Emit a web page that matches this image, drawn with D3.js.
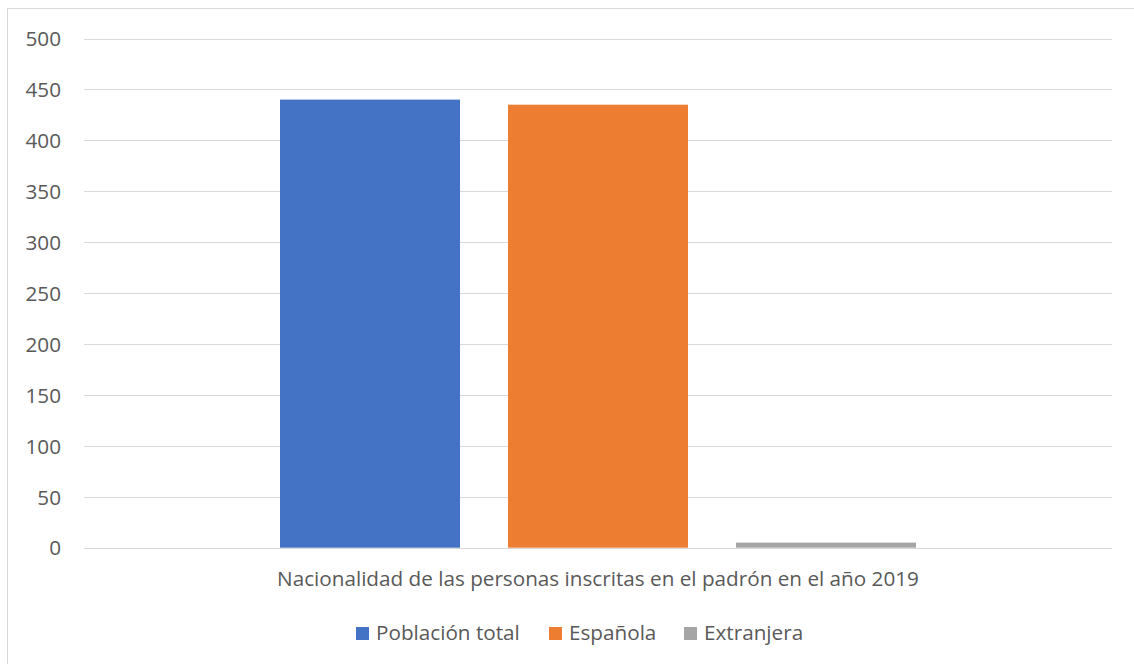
<!DOCTYPE html>
<html><head><meta charset="utf-8">
<script src="https://cdn.jsdelivr.net/npm/d3@7"></script>
<style>body{margin:0;background:#fff}svg{display:block}text{font-family:"Open Sans",sans-serif;fill:#595959}</style>
</head><body>
<svg id="c" width="1134" height="664"></svg>
<script>
const category = ["Nacionalidad de las personas inscritas en el padrón en el año 2019"];
const seriesNames = ["Población total", "Española", "Extranjera"];
const seriesValues = [440, 435, 5];
const colors = ["#4472C4", "#ED7D31", "#A5A5A5"];
const yTicks = [0, 50, 100, 150, 200, 250, 300, 350, 400, 450, 500];
const FS = "20.7px";

const svg = d3.select("#c");
svg.append("rect").attr("x", 7.5).attr("y", 8.5).attr("width", 1140).attr("height", 670)
  .attr("fill", "#fff").attr("stroke", "#d9d9d9");

const x0 = d3.scaleBand().domain(category).range([84, 1112]).paddingInner(0).paddingOuter(0);
const y = d3.scaleLinear().domain([0, 500]).range([547.7, 38.5]);
const x1 = d3.scaleBand().domain(seriesNames).range([280, 916]).paddingInner(48/228).paddingOuter(0);

const g = svg.append("g");
g.selectAll("line.grid").data(yTicks).join("line")
  .attr("x1", 84).attr("x2", 1112)
  .attr("y1", d => Math.round(y(d)) + 0.5).attr("y2", d => Math.round(y(d)) + 0.5)
  .attr("stroke", "#d9d9d9").attr("stroke-width", 1);

const yAxis = d3.axisLeft(y).tickValues(yTicks).tickSize(0).tickPadding(0);
const ya = svg.append("g").attr("transform", "translate(61,0)").call(yAxis);
ya.select(".domain").remove();
ya.selectAll("text").style("font-size", FS).attr("fill", "#595959").attr("dy", "0.35em")
  .style("font-family", "'Open Sans',sans-serif");

g.selectAll("rect.bar").data(seriesNames).join("rect")
  .attr("x", d => x1(d)).attr("width", x1.bandwidth())
  .attr("y", (d, i) => y(seriesValues[i])).attr("height", (d, i) => y(0) - y(seriesValues[i]))
  .attr("fill", (d, i) => colors[i]);

svg.append("text").attr("x", x0(category[0]) + x0.bandwidth() / 2).attr("y", 586)
  .attr("text-anchor", "middle").style("font-size", FS).text(category[0]);

const legX = [356, 549, 684];
const leg = svg.selectAll("g.leg").data(seriesNames).join("g")
  .attr("transform", (d, i) => `translate(${legX[i]},627)`);
leg.append("rect").attr("width", 13).attr("height", 13).attr("fill", (d, i) => colors[i]);
leg.append("text").attr("x", 20).attr("y", 13).style("font-size", FS).text(d => d);
</script>
</body></html>
